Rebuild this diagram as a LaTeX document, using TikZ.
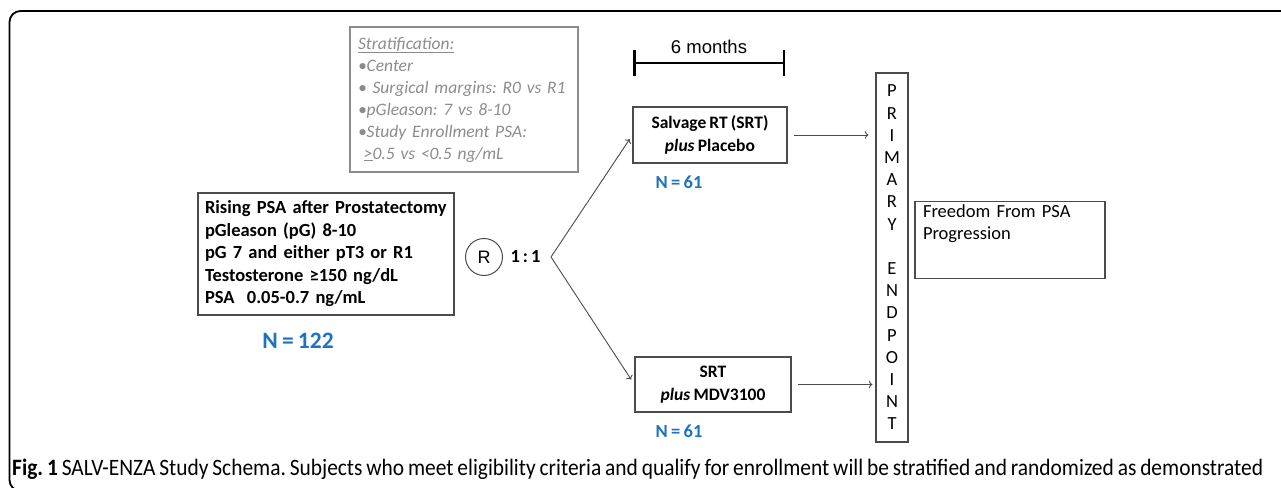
\documentclass[tikz,border=0pt]{standalone}
\usepackage{graphicx}
\usepackage{fontspec}
\setmainfont{Carlito}[WordSpace=0.8]
\newfontfamily\arialfont{Liberation Sans}
\usetikzlibrary{arrows.meta}
\definecolor{countblue}{RGB}{30,115,190}
\definecolor{stratgray}{RGB}{140,140,140}
\definecolor{linegray}{RGB}{75,75,75}
\frenchspacing

\begin{document}
\begin{tikzpicture}[x=1pt, y=-1pt,
    armbox/.style={draw=linegray, line width=1.2pt, align=center, inner sep=0pt,
        font=\fontsize{17.5}{22.5}\selectfont\bfseries},
    count/.style={text=countblue, font=\fontsize{18.5}{20}\selectfont\bfseries},
    flow/.style={->, draw=linegray, line width=0.9pt}]
    \useasboundingbox (0,0) rectangle (1281,487);
    \clip (0,0) rectangle (1281,487);
    % Frame
    \draw[line width=1.8pt, rounded corners=11pt] (9.5,11) rectangle (1320,491);
    % Stratification
    \node[draw=stratgray, line width=1.2pt, text=stratgray, text width=212, inner xsep=8, minimum height=145,
        align=left, font=\fontsize{17.5}{22}\selectfont\itshape] (Strata) at (464,99.5)
        {\underline{Stratification:}\\•Center\\• Surgical margins: R0 vs R1\\•pGleason: 7 vs 8-10\\•Study Enrollment PSA:\\\ \underline{>}0.5 vs <0.5 ng/mL};
    % Eligibility
    \node[draw=linegray, line width=1.2pt, text width=242, inner xsep=7, minimum height=122,
        align=left, font=\fontsize{18.5}{22.5}\selectfont\bfseries] (Eligibility) at (326,254)
        {Rising PSA after Prostatectomy\\pGleason (pG) 8-10\\pG 7 and either pT3 or R1\\Testosterone ≥150 ng/dL\\PSA~ 0.05-0.7 ng/mL};
    \node[count, font=\fontsize{23.5}{25}\selectfont\bfseries] (Count-0) at (298,341) {N = 122};
    % Randomisation
    \node[circle, draw=linegray, line width=1pt, minimum size=37, inner sep=0pt,
        font=\arialfont\fontsize{18}{20}\selectfont] (Random) at (484,257) {R};
    \node[anchor=west, font=\fontsize{18.5}{20}\selectfont\bfseries] (Ratio) at (507,257) {1\,:\,1};
    \coordinate (Split) at (551,257);
    % Treatment
    \node[font=\arialfont\fontsize{18.5}{20}\selectfont] (Months) at (709,47) {6 months};
    \coordinate (Bar-L) at (633,63);
    \coordinate (Bar-R) at (785,63);
    \draw[line width=2.5pt, {Bar[width=25pt]}-{Bar[width=25pt]}] (Bar-L) -- (Bar-R);
    \node[armbox, minimum width=154, minimum height=56] (Arm-1) at (710,135)
        {Salvage RT (SRT)\\\textit{plus} Placebo};
    \node[armbox, minimum width=156, minimum height=55] (Arm-2) at (713,384.5)
        {SRT\\\textit{plus} MDV3100};
    \node[count] (Count-1) at (679,182) {N = 61};
    \node[count] (Count-2) at (679,431) {N = 61};
    % Endpoint
    \node[draw=linegray, line width=1.2pt, minimum width=32, minimum height=369, inner sep=0pt,
        align=center, font=\fontsize{18.5}{22.2}\selectfont] (Endpoint) at (892,257.5)
        {P\\R\\I\\M\\A\\R\\Y\\\mbox{}\\E\\N\\D\\P\\O\\I\\N\\T};
    \node[draw=linegray, line width=1.2pt, text width=174, inner xsep=8, inner ysep=3, minimum height=76,
        align=left, font=\fontsize{18.5}{22}\selectfont] (Outcome) at (1010,240)
        {Freedom From PSA\\Progression\\[14pt]\mbox{}};
    % Arrows
    \draw[flow, shorten >=5pt] (Split) -- (Arm-1.west);
    \draw[flow, shorten >=6pt] (Split) -- (Arm-2.west);
    \draw[flow, shorten <=6pt, shorten >=7pt] (Arm-1.east) -- (Arm-1.east -| Endpoint.west);
    \draw[flow, shorten <=6pt, shorten >=3pt] (Arm-2.east) -- (Arm-2.east -| Endpoint.west);
    % Caption
    \node[anchor=base west, inner sep=0pt] (Caption) at (12,475)
        {\resizebox{1251pt}{\height}{\fontsize{23.5}{26}\selectfont\textbf{Fig. 1} SALV-ENZA Study Schema. Subjects who meet eligibility criteria and qualify for enrollment will be stratified and randomized as demonstrated}};
\end{tikzpicture}
\end{document}
